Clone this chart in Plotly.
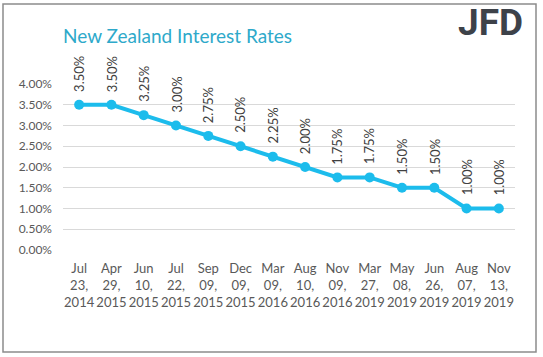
import plotly.graph_objects as go

dates = ["Jul<br>23,<br>2014", "Apr<br>29,<br>2015", "Jun<br>10,<br>2015", "Jul<br>22,<br>2015",
         "Sep<br>09,<br>2015", "Dec<br>09,<br>2015", "Mar<br>09,<br>2016", "Aug<br>10,<br>2016",
         "Nov<br>09,<br>2016", "Mar<br>27,<br>2019", "May<br>08,<br>2019", "Jun<br>26,<br>2019",
         "Aug<br>07,<br>2019", "Nov<br>13,<br>2019"]
rates = [3.50, 3.50, 3.25, 3.00, 2.75, 2.50, 2.25, 2.00, 1.75, 1.75, 1.50, 1.50, 1.00, 1.00]
y_ticks = [0, 0.5, 1.0, 1.5, 2.0, 2.5, 3.0, 3.5, 4.0]
y_tick_labels = [f"{v:.2f}%" for v in y_ticks]

title_text = "New Zealand Interest Rates"
logo_text = "JFD"

W, H = 543, 357
L, R, T, B = 63, 28, 84, 107
pw, ph = W - L - R, H - T - B

def px_to_paper_x(x):
    return (x - L) / pw

def px_to_paper_y(y):
    return 1 - (y - T) / ph

x_idx = list(range(len(dates)))

fig = go.Figure()
fig.add_trace(go.Scatter(
    x=x_idx, y=rates, mode="lines+markers",
    line=dict(color="#1CBCEC", width=4),
    marker=dict(color="#1CBCEC", size=10),
    hoverinfo="skip", showlegend=False,
))

annotations = []
for i, v in zip(x_idx, rates):
    annotations.append(dict(
        x=i, y=v, xref="x", yref="y", text=f"{v:.2f}%", showarrow=False,
        textangle=-90, xanchor="center", yanchor="bottom", yshift=11,
        font=dict(family="Lato, Open Sans, sans-serif", size=13, color="#404040"),
    ))

annotations.append(dict(
    x=px_to_paper_x(61), y=px_to_paper_y(36), xref="paper", yref="paper",
    text=title_text, showarrow=False, xanchor="left", yanchor="middle",
    font=dict(family="Lato, Open Sans, sans-serif", size=19, color="#2EA9CA"),
))
annotations.append(dict(
    x=px_to_paper_x(490), y=px_to_paper_y(22.5), xref="paper", yref="paper",
    text=logo_text, showarrow=False, xanchor="center", yanchor="middle",
    font=dict(family="Roboto, DejaVu Sans, sans-serif", size=37, color="#3D4249", weight=700),
))

fig.update_layout(
    width=W, height=H,
    margin=dict(l=L, r=R, t=T, b=B, pad=0),
    paper_bgcolor="white", plot_bgcolor="white",
    annotations=annotations,
    shapes=[dict(type="rect", xref="paper", yref="paper",
                 x0=px_to_paper_x(3), x1=px_to_paper_x(536),
                 y0=px_to_paper_y(352), y1=px_to_paper_y(4),
                 line=dict(color="#8C8C8C", width=1.5), fillcolor="rgba(0,0,0,0)", layer="below")],
    xaxis=dict(
        tickmode="array", tickvals=x_idx, ticktext=dates,
        range=[-0.5, len(dates) - 0.5], showgrid=False, zeroline=False,
        showline=False, ticks="", ticklen=0, ticklabelstandoff=9, tickangle=0,
        tickfont=dict(family="Lato, Open Sans, sans-serif", size=13, color="#595959"),
    ),
    yaxis=dict(
        tickmode="array", tickvals=y_ticks, ticktext=y_tick_labels,
        range=[0, 4.0], showgrid=True, gridcolor="#D9D9D9", gridwidth=1,
        zeroline=False, showline=False, ticks="", ticklabelstandoff=10,
        tickfont=dict(family="Lato, Open Sans, sans-serif", size=12, color="#595959"),
    ),
)

fig.write_html("out.html", config={"displayModeBar": False},
               post_script="document.body.style.margin='0';document.body.style.overflow='hidden';")
